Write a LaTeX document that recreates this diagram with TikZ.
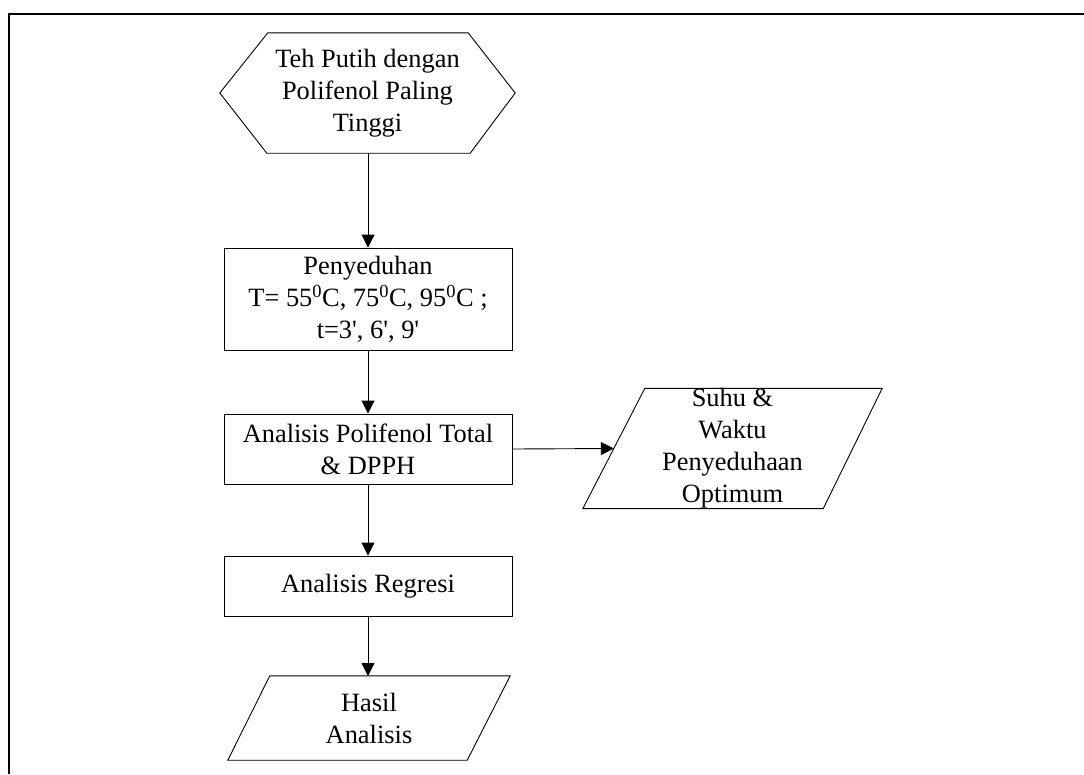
\documentclass[tikz,border=0pt]{standalone}
\usepackage{fontspec}
\setmainfont{Liberation Serif}
\usetikzlibrary{arrows.meta,calc}
\begin{document}
\begin{tikzpicture}[x=1pt,y=-1pt,
  font=\fontsize{26.4}{32}\selectfont,
  txt/.style={inner sep=0pt, align=center, draw=none},
  rectbox/.style={draw, line width=0.9pt, inner sep=0pt, align=center, minimum width=288pt},
  outline/.style={draw, line width=0.9pt, line join=miter},
  flow/.style={draw, line width=0.9pt, -{Triangle[length=13pt,width=13pt]}},
  frameline/.style={draw, line width=2pt}]
\useasboundingbox (0,0) rectangle (1084,774);
\coordinate (fa) at (9,774);
\coordinate (fb) at (9,14);
\coordinate (fc) at (1084,14);
\draw[frameline] (fa) -- (fb) -- (fc);

% hexagon
\node[txt, minimum width=295pt, minimum height=120pt] (hex) at (367.5,93) {Teh Putih dengan\\Polifenol Paling\\Tinggi};
\draw[outline] (hex.west) -- ($(hex.north west)+(48,0)$) -- ($(hex.north east)+(-47,0)$) -- (hex.east) -- ($(hex.south east)+(-45,0)$) -- ($(hex.south west)+(47,0)$) -- cycle;

% boxes
\node[rectbox, minimum height=102pt] (pen) at (368,299) {Penyeduhan\\T= 55\textsuperscript{0}C, 75\textsuperscript{0}C, 95\textsuperscript{0}C ;\\t=3\textquotesingle, 6\textquotesingle, 9\textquotesingle};
\node[rectbox, minimum height=70pt] (ana) at (368,449) {Analisis Polifenol Total\\\& DPPH};
\node[rectbox, minimum height=60pt] (reg) at (368,586) {Analisis Regresi};

% parallelogram Suhu
\node[txt, minimum width=299pt, minimum height=119pt] (suhu) at (732.5,448.5) {Suhu \&\\Waktu\\Penyeduhaan\\Optimum};
\draw[outline] ($(suhu.north west)+(62,0)$) -- (suhu.north east) -- ($(suhu.south east)+(-59,0)$) -- (suhu.south west) -- cycle;
\coordinate (suhuin) at ($(suhu.west)+(31,0)$);

% parallelogram Hasil
\node[txt, minimum width=282pt, minimum height=84pt] (hasil) at (369,718) {Hasil\\Analisis};
\draw[outline] ($(hasil.north west)+(42,0)$) -- (hasil.north east) -- ($(hasil.south east)+(-43,0)$) -- (hasil.south west) -- cycle;
\coordinate (hasilin) at (368,676);

% connectors
\draw[flow] (hex.south -| pen.north) -- (pen.north);
\draw[flow] (pen.south) -- (ana.north);
\draw[flow] (ana.east) -- (suhuin);
\draw[flow] (ana.south) -- (reg.north);
\draw[flow] (reg.south) -- (hasilin);
\end{tikzpicture}
\end{document}
